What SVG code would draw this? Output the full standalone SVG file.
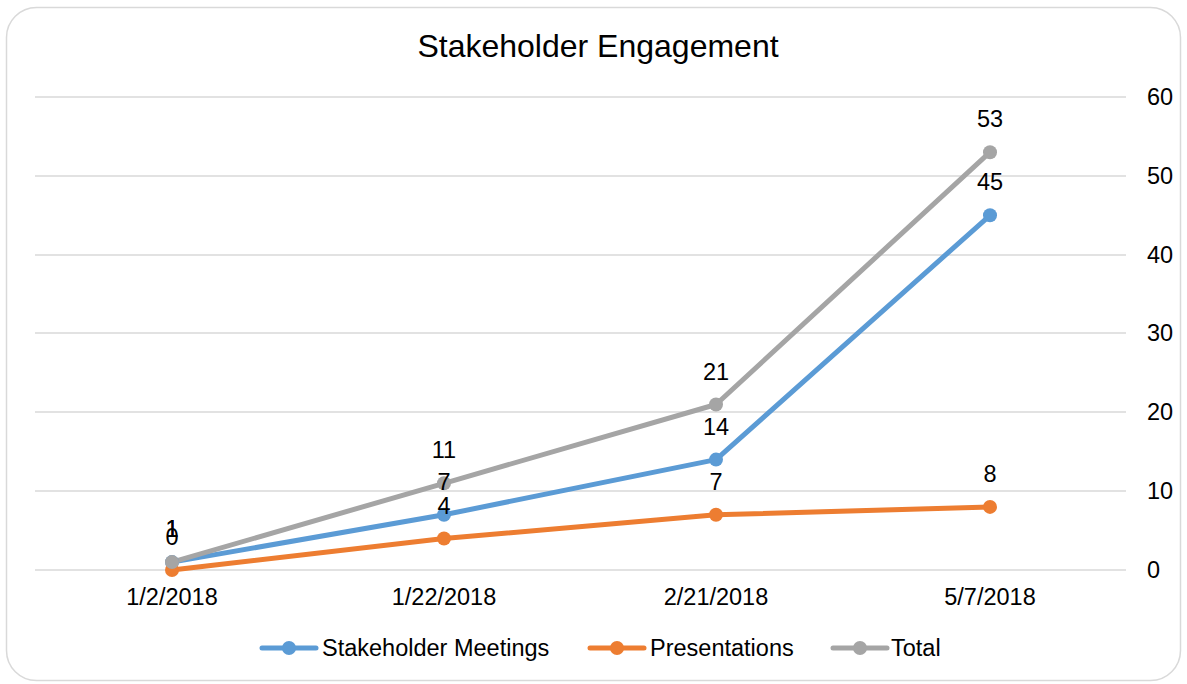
<svg xmlns="http://www.w3.org/2000/svg" width="1187" height="684" viewBox="0 0 1187 684">
<style>
text{font-family:"Liberation Sans",Arial,sans-serif;fill:#000}
.t{font-size:32px}
.l{font-size:23.5px}
.grid line{stroke:#D9D9D9;stroke-width:1.5}
.s{fill:none;stroke-width:5;stroke-linejoin:round;stroke-linecap:round}
.b{stroke:#5B9BD5}.o{stroke:#ED7D31}.g{stroke:#A5A5A5}
.bf{fill:#5B9BD5}.of{fill:#ED7D31}.gf{fill:#A5A5A5}
</style>
<rect x="6.5" y="7.5" width="1174" height="673" rx="30" fill="#fff" stroke="#D9D9D9" stroke-width="1.5"/>
<text class="t" x="598" y="57" text-anchor="middle">Stakeholder Engagement</text>
<g class="grid">
<line x1="35" y1="97" x2="1126" y2="97"/>
<line x1="35" y1="176" x2="1126" y2="176"/>
<line x1="35" y1="255" x2="1126" y2="255"/>
<line x1="35" y1="333" x2="1126" y2="333"/>
<line x1="35" y1="412" x2="1126" y2="412"/>
<line x1="35" y1="491" x2="1126" y2="491"/>
<line x1="35" y1="570" x2="1126" y2="570"/>
</g>
<g id="y-axis" class="l">
<text x="1147" y="105">60</text>
<text x="1147" y="184">50</text>
<text x="1147" y="263">40</text>
<text x="1147" y="341">30</text>
<text x="1147" y="420">20</text>
<text x="1147" y="499">10</text>
<text x="1147" y="578">0</text>
</g>
<g id="x-axis" class="l" text-anchor="middle">
<text x="172" y="605">1/2/2018</text>
<text x="444" y="605">1/22/2018</text>
<text x="716" y="605">2/21/2018</text>
<text x="990" y="605">5/7/2018</text>
</g>
<g id="connectors">
<polyline class="s b" points="172,562.1 444,514.8 716,459.6 990,215.3"/>
<polyline class="s o" points="172,570 444,538.5 716,514.8 990,506.9"/>
<polyline class="s g" points="172,562.1 444,483.3 716,404.5 990,152.2"/>
</g>
<g id="series-meetings" class="bf">
<circle cx="172" cy="562.1" r="7"/><circle cx="444" cy="514.8" r="7"/><circle cx="716" cy="459.6" r="7"/><circle cx="990" cy="215.3" r="7"/>
</g>
<g id="series-presentations" class="of">
<circle cx="172" cy="570" r="7"/><circle cx="444" cy="538.5" r="7"/><circle cx="716" cy="514.8" r="7"/><circle cx="990" cy="506.9" r="7"/>
</g>
<g id="series-total" class="gf">
<circle cx="172" cy="562.1" r="7"/><circle cx="444" cy="483.3" r="7"/><circle cx="716" cy="404.5" r="7"/><circle cx="990" cy="152.2" r="7"/>
</g>
<g id="labels" class="l" text-anchor="middle">
<text x="172" y="537">1</text><text x="444" y="490">7</text><text x="716" y="435">14</text><text x="990" y="190">45</text>
<text x="172" y="545">0</text><text x="444" y="514">4</text><text x="716" y="490">7</text><text x="990" y="482">8</text>
<text x="172" y="537">1</text><text x="444" y="458">11</text><text x="716" y="380">21</text><text x="990" y="127">53</text>
</g>
<g id="legend">
<g id="legend-meetings"><line class="s b" x1="262" y1="648" x2="316" y2="648"/><circle class="bf" cx="289" cy="648" r="7"/><text class="l" x="322" y="656">Stakeholder Meetings</text></g>
<g id="legend-presentations"><line class="s o" x1="590" y1="648" x2="644" y2="648"/><circle class="of" cx="617" cy="648" r="7"/><text class="l" x="650" y="656">Presentations</text></g>
<g id="legend-total"><line class="s g" x1="833" y1="648" x2="887" y2="648"/><circle class="gf" cx="860" cy="648" r="7"/><text class="l" x="891" y="656">Total</text></g>
</g>
</svg>
